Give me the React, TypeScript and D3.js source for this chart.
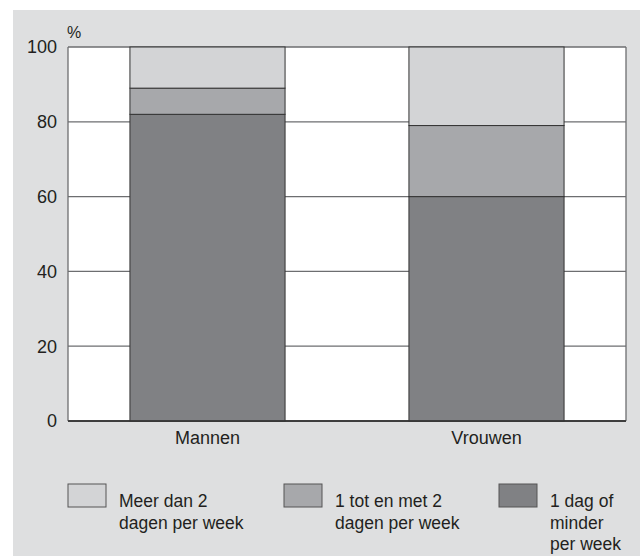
import React from "react";
import * as d3 from "d3";

const categories = ["Mannen", "Vrouwen"];
const seriesNames = ["1 dag of minder per week", "1 tot en met 2 dagen per week", "Meer dan 2 dagen per week"];
const lowValues = [82, 60];
const midValues = [7, 19];
const highValues = [11, 21];
const yTicks = [0, 20, 40, 60, 80, 100];
const legendLabels = [
  ["Meer dan 2", "dagen per week"],
  ["1 tot en met 2", "dagen per week"],
  ["1 dag of", "minder", "per week"],
];
const colors = ["#808184", "#a7a8ab", "#d3d4d6"];
const legendColors = ["#d3d4d6", "#a7a8ab", "#808184"];

const W = 642, H = 556;
const plot = { left: 68, right: 626, top: 47, bottom: 421 };
const font = "'Liberation Sans', Arial, Helvetica, sans-serif";
const textColor = "#231f20";

export default function App() {
  const x = d3.scaleBand<string>().domain(categories).range([plot.left, plot.right]).paddingInner(0.444).paddingOuter(0.222);
  const y = d3.scaleLinear().domain([0, 100]).range([plot.bottom, plot.top]);
  const table = categories.map((c, i) => ({ cat: c, low: lowValues[i], mid: midValues[i], high: highValues[i] }));
  const stack = d3.stack<any>().keys(["low", "mid", "high"]);
  const series = stack(table);
  const legendX = [68, 284, 499];

  return (
    <div style={{ position: "absolute", left: 0, top: 0 }}>
      <svg width={W} height={H} style={{ display: "block" }}>
        <rect x={13} y={10} width={627} height={546} fill="#dedfe0" />
        <rect x={plot.left} y={plot.top} width={plot.right - plot.left} height={plot.bottom - plot.top} fill="#ffffff" />
        {yTicks.map((t) => (
          <g key={t}>
            <line x1={plot.left} x2={plot.right} y1={y(t)} y2={y(t)} stroke={t === 0 ? "#333" : "#6d6e70"} strokeWidth={1.3} />
            <text x={57} y={y(t)} dy="0.35em" textAnchor="end" fontFamily={font} fontSize={18} fill={textColor}>{t}</text>
          </g>
        ))}
        <line x1={plot.left} x2={plot.left} y1={plot.top} y2={plot.bottom} stroke="#6d6e70" strokeWidth={1.3} />
        <line x1={plot.right} x2={plot.right} y1={plot.top} y2={plot.bottom} stroke="#6d6e70" strokeWidth={1.3} />
        <text x={67} y={38} fontFamily={font} fontSize={16} fill={textColor}>%</text>
        {series.map((s, si) => (
          <g key={si}>
            {s.map((d: any, i: number) => (
              <rect
                key={i}
                x={x(d.data.cat)!}
                y={y(d[1])}
                width={x.bandwidth()}
                height={y(d[0]) - y(d[1])}
                fill={colors[si]}
                stroke="#333"
                strokeWidth={1}
              />
            ))}
          </g>
        ))}
        <line x1={plot.left} x2={plot.right} y1={y(0)} y2={y(0)} stroke="#333" strokeWidth={1.3} />
        {categories.map((c) => (
          <text key={c} x={x(c)! + x.bandwidth() / 2} y={444} textAnchor="middle" fontFamily={font} fontSize={18} fill={textColor}>{c}</text>
        ))}
        {legendLabels.map((lines, i) => (
          <g key={i}>
            <rect x={legendX[i]} y={484} width={38} height={23} fill={legendColors[i]} stroke="#555" strokeWidth={1} />
            <text fontFamily={font} fontSize={17.5} fill={textColor}>
              {lines.map((l, j) => (
                <tspan key={j} x={legendX[i] + 51} y={507 + j * 21.5}>{l}</tspan>
              ))}
            </text>
          </g>
        ))}
      </svg>
    </div>
  );
}
